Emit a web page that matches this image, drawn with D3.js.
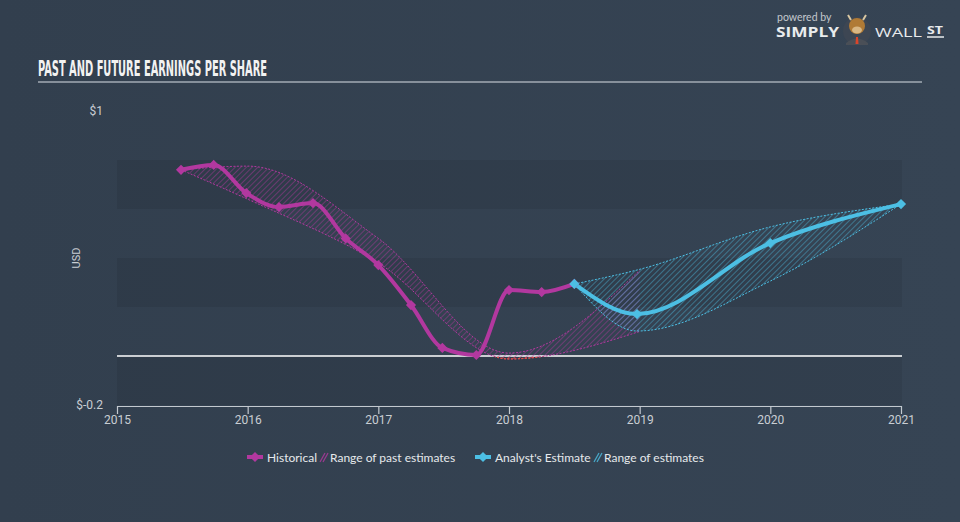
<!DOCTYPE html>
<html>
<head>
<meta charset="utf-8">
<script src="https://cdn.jsdelivr.net/npm/d3@7"></script>
<style>
  html, body { margin: 0; padding: 0; background: #344252; }
  svg { display: block; }
</style>
</head>
<body>
<svg id="chart" width="960" height="522"></svg>
<script>
// ---- Data ----
const yearTicks = [2015, 2016, 2017, 2018, 2019, 2020, 2021];
const yTickLabels = ["$1", "$-0.2"];
const yTickValues = [1, -0.2];

const histDates = [2015.49, 2015.74, 2015.99, 2016.24, 2016.5, 2016.75, 2017.0, 2017.25, 2017.49, 2017.75, 2018.0, 2018.25, 2018.5];
const histEPS   = [0.76, 0.78, 0.665, 0.608, 0.624, 0.48, 0.371, 0.208, 0.033, 0.004, 0.269, 0.261, 0.294];

const estDates = [2018.5, 2018.98, 2020.0, 2021.0];
const estEPS   = [0.294, 0.171, 0.461, 0.62];
const estHigh  = [0.294, 0.351, 0.527, 0.62];
const estLow   = [0.294, 0.102, 0.306, 0.62];

const pastRangeDates = [2015.49, 2016.0, 2017.0, 2018.0, 2019.0];
const pastRangeHigh  = [0.76, 0.775, 0.48, 0.012, 0.35];
const pastRangeLow   = [0.76, 0.64, 0.38, -0.012, 0.10];

const legendLabels = ["Historical", "Range of past estimates", "Analyst's Estimate", "Range of estimates"];

// ---- Style ----
const MAGENTA = "#b2389f";
const BLUE = "#4cbfe4";
const svg = d3.select("#chart");
const W = 960, H = 522;
const plot = { left: 117, right: 901, top: 111, bottom: 405 };

const x = d3.scaleLinear().domain([2015, 2021]).range([plot.left, plot.right]);
const y = d3.scaleLinear().domain([-0.2, 1]).range([plot.bottom, plot.top]);

// background
const defs = svg.append("defs");
const bg = defs.append("linearGradient").attr("id", "bg").attr("x1", 0).attr("x2", 1).attr("y1", 0).attr("y2", 0);
bg.append("stop").attr("offset", 0).attr("stop-color", "#323f4e");
bg.append("stop").attr("offset", 1).attr("stop-color", "#364454");
svg.append("rect").attr("width", W).attr("height", H).attr("fill", "url(#bg)");

// hatch patterns
function hatch(id, color, op) {
  const p = defs.append("pattern").attr("id", id).attr("patternUnits", "userSpaceOnUse")
    .attr("width", 4).attr("height", 4).attr("patternTransform", "rotate(45)");
  p.append("line").attr("x1", 0).attr("y1", 0).attr("x2", 0).attr("y2", 4)
    .attr("stroke", color).attr("stroke-width", 1.2).attr("stroke-opacity", op);
}
hatch("hatchM", MAGENTA, 0.75);
hatch("hatchB", BLUE, 0.7);
hatch("hatchR", "#e0483a", 0.9);

// bands (alternate)
const bandStarts = [0.8, 0.4, 0.0];
svg.append("g").selectAll("rect").data(bandStarts).join("rect")
  .attr("x", plot.left).attr("width", plot.right + 1 - plot.left)
  .attr("y", d => y(d)).attr("height", d => y(d - 0.2) - y(d))
  .attr("fill", "#000").attr("fill-opacity", 0.07);

// title
svg.append("text").attr("x", 38).attr("y", 76)
  .attr("font-family", "'Liberation Sans Narrow', 'DejaVu Sans Condensed', sans-serif")
  .attr("font-weight", "bold").attr("font-size", 21).attr("fill", "#f2f2f2")
  .attr("textLength", 229).attr("lengthAdjust", "spacingAndGlyphs")
  .text("PAST AND FUTURE EARNINGS PER SHARE");
svg.append("line").attr("x1", 38).attr("x2", 922).attr("y1", 82).attr("y2", 82)
  .attr("stroke", "#a3abb4").attr("stroke-width", 1.5);

// logo
const logo = svg.append("g");
logo.append("text").attr("x", 777).attr("y", 21).attr("font-family", "Lato, 'Open Sans', sans-serif")
  .attr("font-size", 10.5).attr("fill", "#c3c8ce").text("powered by");
logo.append("text").attr("x", 776).attr("y", 37).attr("font-family", "'Open Sans', Lato, sans-serif")
  .attr("font-weight", "bold").attr("font-size", 13.5).attr("fill", "#e9ebed")
  .attr("textLength", 63).attr("lengthAdjust", "spacingAndGlyphs").text("SIMPLY");
logo.append("circle").attr("cx", 857).attr("cy", 31).attr("r", 14).attr("fill", "#3d4653");
logo.append("path").attr("d", "M846,43 Q857,34 868,43 L868,45 L846,45 Z").attr("fill", "#4a4f57");
logo.append("path").attr("d", "M848,15 L851,20 M866,15 L863,20").attr("stroke", "#d9c7a3").attr("stroke-width", 2);
logo.append("ellipse").attr("cx", 857).attr("cy", 26).attr("rx", 8).attr("ry", 8).attr("fill", "#b07a35");
logo.append("ellipse").attr("cx", 857).attr("cy", 30).attr("rx", 5).attr("ry", 3.5).attr("fill", "#d9b784");
logo.append("path").attr("d", "M856,37 L858,37 L858.5,44 L855.5,44 Z").attr("fill", "#d9452b");
logo.append("text").attr("x", 875).attr("y", 37).attr("font-family", "'Open Sans', Lato, sans-serif")
  .attr("font-size", 13.5).attr("fill", "#e9ebed")
  .attr("textLength", 47).attr("lengthAdjust", "spacingAndGlyphs").text("WALL");
logo.append("text").attr("x", 927).attr("y", 34).attr("font-family", "'Open Sans', Lato, sans-serif")
  .attr("font-weight", "bold").attr("font-size", 10).attr("fill", "#e9ebed")
  .attr("textLength", 16).attr("lengthAdjust", "spacingAndGlyphs").text("ST");
logo.append("line").attr("x1", 927).attr("x2", 944).attr("y1", 37).attr("y2", 37)
  .attr("stroke", "#e9ebed").attr("stroke-width", 1.5);

// y labels
svg.append("g").selectAll("text").data(yTickValues).join("text")
  .attr("x", 103).attr("y", d => y(d) + 1).attr("text-anchor", "end").attr("dominant-baseline", "middle")
  .attr("font-family", "Roboto, sans-serif").attr("font-size", 12).attr("fill", "#c9ced3")
  .text((d, i) => yTickLabels[i]);
svg.append("text").attr("transform", `translate(80,${y(0.4)}) rotate(-90)`)
  .attr("text-anchor", "middle").attr("font-family", "Roboto, sans-serif").attr("font-size", 11)
  .attr("fill", "#c9ced3").text("USD");

// x axis
const xAxis = d3.axisBottom(x).tickValues(yearTicks).tickFormat(d3.format("d")).tickSize(8).tickSizeOuter(0);
const gx = svg.append("g").attr("transform", `translate(0,${plot.bottom + 1})`).call(xAxis);
gx.select(".domain").attr("stroke", "#c3c9cf").attr("stroke-width", 1.2);
gx.selectAll(".tick line").attr("stroke", "#c3c9cf").attr("stroke-width", 1.2);
gx.selectAll(".tick text").attr("font-family", "Roboto, sans-serif").attr("font-size", 12)
  .attr("fill", "#c9ced3").attr("y", 9);

// zero line
svg.append("line").attr("x1", plot.left).attr("x2", plot.right + 1).attr("y1", y(0)).attr("y2", y(0))
  .attr("stroke", "#ffffff").attr("stroke-width", 1.5);

const curve = d3.curveMonotoneX;

// past range
const pastData = pastRangeDates.map((d, i) => ({ d, hi: pastRangeHigh[i], lo: pastRangeLow[i] }));
const pastArea = d3.area().x(p => x(p.d)).y0(p => y(p.lo)).y1(p => y(p.hi)).curve(curve);
const pastHi = d3.line().x(p => x(p.d)).y(p => y(p.hi)).curve(curve);
const pastLo = d3.line().x(p => x(p.d)).y(p => y(p.lo)).curve(curve);
svg.append("path").attr("d", pastArea(pastData)).attr("fill", "url(#hatchM)");
svg.append("path").attr("d", pastHi(pastData)).attr("fill", "none").attr("stroke", MAGENTA)
  .attr("stroke-width", 1).attr("stroke-dasharray", "2,1.5");
svg.append("path").attr("d", pastLo(pastData)).attr("fill", "none").attr("stroke", MAGENTA)
  .attr("stroke-width", 1).attr("stroke-dasharray", "2,1.5");
// negative part in red
defs.append("clipPath").attr("id", "neg").append("rect")
  .attr("x", plot.left).attr("y", y(0) + 0.8).attr("width", plot.right - plot.left).attr("height", plot.bottom - y(0));
const neg = svg.append("g").attr("clip-path", "url(#neg)");
neg.append("path").attr("d", pastArea(pastData)).attr("fill", "url(#hatchR)");
neg.append("path").attr("d", pastLo(pastData)).attr("fill", "none").attr("stroke", "#e5533c")
  .attr("stroke-width", 1.2).attr("stroke-dasharray", "2,1.5");

// future range
const estData = estDates.map((d, i) => ({ d, v: estEPS[i], hi: estHigh[i], lo: estLow[i] }));
const estArea = d3.area().x(p => x(p.d)).y0(p => y(p.lo)).y1(p => y(p.hi)).curve(curve);
svg.append("path").attr("d", estArea(estData)).attr("fill", "url(#hatchB)");
["hi", "lo"].forEach(k => {
  svg.append("path").attr("d", d3.line().x(p => x(p.d)).y(p => y(p[k])).curve(curve)(estData))
    .attr("fill", "none").attr("stroke", BLUE).attr("stroke-width", 1).attr("stroke-dasharray", "2,1.5");
});

// lines
const histData = histDates.map((d, i) => ({ d, v: histEPS[i] }));
const line = d3.line().x(p => x(p.d)).y(p => y(p.v)).curve(curve);
svg.append("path").attr("d", line(histData)).attr("fill", "none").attr("stroke", MAGENTA)
  .attr("stroke-width", 4).attr("stroke-linejoin", "round");
svg.append("path").attr("d", line(estData)).attr("fill", "none").attr("stroke", BLUE)
  .attr("stroke-width", 4).attr("stroke-linejoin", "round");

const diamond = d3.symbol().type(d3.symbolSquare).size(52);
svg.append("g").selectAll("path").data(histData).join("path")
  .attr("d", diamond).attr("transform", p => `translate(${x(p.d)},${y(p.v)}) rotate(45)`).attr("fill", MAGENTA);
svg.append("g").selectAll("path").data(estData).join("path")
  .attr("d", diamond).attr("transform", p => `translate(${x(p.d)},${y(p.v)}) rotate(45)`).attr("fill", BLUE);

// legend
const lg = svg.append("g").attr("font-family", "Lato, Roboto, sans-serif").attr("font-size", 12).attr("fill", "#e6e9ec");
function legLine(x0, color) {
  lg.append("line").attr("x1", x0).attr("x2", x0 + 16).attr("y1", 457).attr("y2", 457)
    .attr("stroke", color).attr("stroke-width", 4);
  lg.append("path").attr("d", diamond).attr("transform", `translate(${x0 + 8},457) rotate(45)`).attr("fill", color);
}
function legHatch(x0, color) {
  [0, 3].forEach(o => lg.append("line").attr("x1", x0 + o).attr("y1", 462).attr("x2", x0 + o + 5).attr("y2", 453)
    .attr("stroke", color).attr("stroke-width", 1.3).attr("stroke-opacity", 0.8));
}
legLine(247, MAGENTA);
lg.append("text").attr("x", 267).attr("y", 461.5).text(legendLabels[0]);
legHatch(320, MAGENTA);
lg.append("text").attr("x", 330).attr("y", 461.5).text(legendLabels[1]);
legLine(475, BLUE);
lg.append("text").attr("x", 495).attr("y", 461.5).text(legendLabels[2]);
legHatch(594, BLUE);
lg.append("text").attr("x", 604).attr("y", 461.5).text(legendLabels[3]);
</script>
</body>
</html>
